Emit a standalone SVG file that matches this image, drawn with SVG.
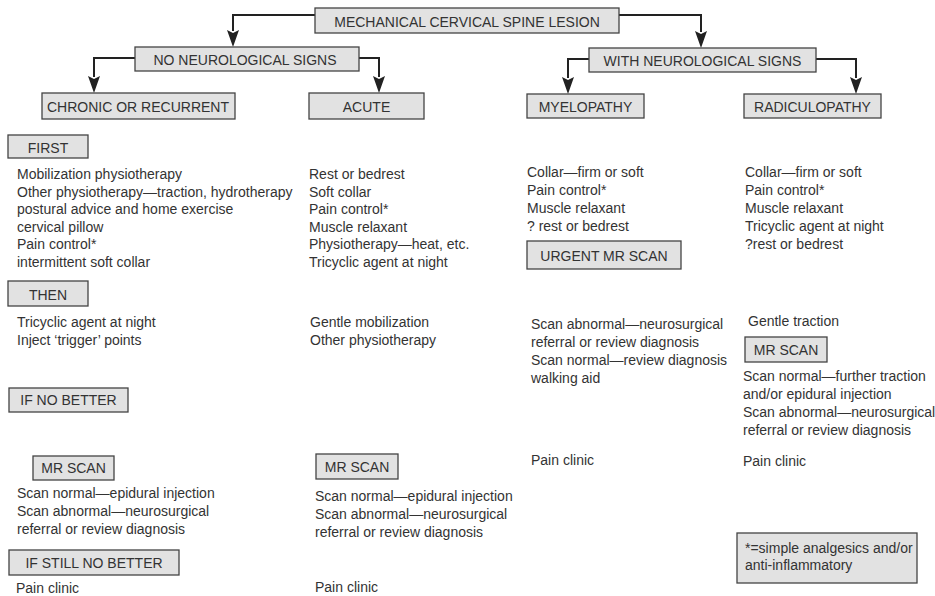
<svg xmlns="http://www.w3.org/2000/svg" width="935" height="596" viewBox="0 0 935 596">
<defs>
<marker id="ah" viewBox="0 0 12 17" refX="6" refY="17" markerWidth="12" markerHeight="17" markerUnits="userSpaceOnUse" orient="auto-start-reverse">
<path d="M0,0 L6,3 L12,0 L6,17 Z" fill="#222"/>
</marker>
</defs>
<style>
text{font-family:"Liberation Sans",Arial,sans-serif;font-size:14px;fill:#333}
.box{fill:#e2e2e2;stroke:#444;stroke-width:1.3}
.lbl{text-anchor:middle}
.con{fill:none;stroke:#222;stroke-width:2}
</style>
<rect width="935" height="596" fill="#fff"/>

<g id="connectors">
<path class="con" d="M315,15 H233 V31"/>
<path d="M227,30 L233,33 L239,30 L233,47 Z" fill="#222"/>
<path class="con" d="M619,15 H701 V32"/>
<path d="M695,31 L701,34 L707,31 L701,48 Z" fill="#222"/>
<path class="con" d="M135,58 H94 V77"/>
<path d="M88,76 L94,79 L100,76 L94,93 Z" fill="#222"/>
<path class="con" d="M359,58 H379 V77"/>
<path d="M373,76 L379,79 L385,76 L379,93 Z" fill="#222"/>
<path class="con" d="M589,59 H568 V78"/>
<path d="M562,77 L568,80 L574,77 L568,94 Z" fill="#222"/>
<path class="con" d="M816,59 H856 V78"/>
<path d="M850,77 L856,80 L862,77 L856,94 Z" fill="#222"/>
</g>

<g id="mechanical">
<rect class="box" x="315" y="8" width="304" height="25"/>
<text class="lbl" x="467" y="27">MECHANICAL CERVICAL SPINE LESION</text>
</g>
<g id="no-neuro">
<rect class="box" x="135" y="47" width="224" height="24"/>
<text class="lbl" x="245" y="65">NO NEUROLOGICAL SIGNS</text>
</g>
<g id="with-neuro">
<rect class="box" x="589" y="48" width="227" height="24"/>
<text class="lbl" x="702.5" y="66">WITH NEUROLOGICAL SIGNS</text>
</g>
<g id="chronic">
<rect class="box" x="42" y="93" width="193" height="26"/>
<text class="lbl" x="138" y="112">CHRONIC OR RECURRENT</text>
</g>
<g id="acute">
<rect class="box" x="309" y="93" width="115" height="26"/>
<text class="lbl" x="366.5" y="112">ACUTE</text>
</g>
<g id="myelopathy">
<rect class="box" x="527" y="94" width="117" height="24"/>
<text class="lbl" x="585.5" y="112">MYELOPATHY</text>
</g>
<g id="radiculopathy">
<rect class="box" x="744" y="94" width="137" height="24"/>
<text class="lbl" x="812.5" y="112">RADICULOPATHY</text>
</g>

<g id="first">
<rect class="box" x="8" y="135" width="80" height="23"/>
<text class="lbl" x="48" y="153">FIRST</text>
</g>
<g id="chronic-first">
<text x="17" y="179">Mobilization physiotherapy</text>
<text x="17" y="196.6">Other physiotherapy—traction, hydrotherapy</text>
<text x="17" y="214.2">postural advice and home exercise</text>
<text x="17" y="231.8">cervical pillow</text>
<text x="17" y="249.4">Pain control*</text>
<text x="17" y="267">intermittent soft collar</text>
</g>
<g id="acute-first">
<text x="309" y="179">Rest or bedrest</text>
<text x="309" y="196.6">Soft collar</text>
<text x="309" y="214.2">Pain control*</text>
<text x="309" y="231.8">Muscle relaxant</text>
<text x="309" y="249.4">Physiotherapy—heat, etc.</text>
<text x="309" y="267">Tricyclic agent at night</text>
</g>
<g id="myelo-first">
<text x="527" y="177">Collar—firm or soft</text>
<text x="527" y="195">Pain control*</text>
<text x="527" y="213">Muscle relaxant</text>
<text x="527" y="231">? rest or bedrest</text>
</g>
<g id="radic-first">
<text x="745" y="177">Collar—firm or soft</text>
<text x="745" y="195">Pain control*</text>
<text x="745" y="213">Muscle relaxant</text>
<text x="745" y="231">Tricyclic agent at night</text>
<text x="745" y="249">?rest or bedrest</text>
</g>
<g id="urgent-mr">
<rect class="box" x="527" y="241" width="154" height="28"/>
<text class="lbl" x="604" y="261">URGENT MR SCAN</text>
</g>

<g id="then">
<rect class="box" x="8" y="281" width="80" height="25"/>
<text class="lbl" x="48" y="300">THEN</text>
</g>
<g id="chronic-then">
<text x="17" y="327">Tricyclic agent at night</text>
<text x="17" y="345">Inject ‘trigger’ points</text>
</g>
<g id="acute-then">
<text x="310" y="327">Gentle mobilization</text>
<text x="310" y="345">Other physiotherapy</text>
</g>
<g id="myelo-scan">
<text x="531" y="329">Scan abnormal—neurosurgical</text>
<text x="531" y="347">referral or review diagnosis</text>
<text x="531" y="365">Scan normal—review diagnosis</text>
<text x="531" y="383">walking aid</text>
</g>
<g id="radic-then">
<text x="748" y="326">Gentle traction</text>
</g>
<g id="radic-mr">
<rect class="box" x="745" y="337" width="82" height="25"/>
<text class="lbl" x="786" y="355">MR SCAN</text>
</g>
<g id="radic-scan">
<text x="743" y="381">Scan normal—further traction</text>
<text x="743" y="399">and/or epidural injection</text>
<text x="743" y="417">Scan abnormal—neurosurgical</text>
<text x="743" y="435">referral or review diagnosis</text>
</g>
<g id="myelo-pain">
<text x="531" y="465">Pain clinic</text>
</g>
<g id="radic-pain">
<text x="743" y="466">Pain clinic</text>
</g>

<g id="if-no-better">
<rect class="box" x="9" y="388" width="119" height="24"/>
<text class="lbl" x="68.5" y="405">IF NO BETTER</text>
</g>
<g id="chronic-mr">
<rect class="box" x="33" y="456" width="81" height="24"/>
<text class="lbl" x="73.5" y="473">MR SCAN</text>
</g>
<g id="chronic-scan">
<text x="17" y="498">Scan normal—epidural injection</text>
<text x="17" y="516">Scan abnormal—neurosurgical</text>
<text x="17" y="534">referral or review diagnosis</text>
</g>
<g id="acute-mr">
<rect class="box" x="316" y="454" width="82" height="25"/>
<text class="lbl" x="357" y="472">MR SCAN</text>
</g>
<g id="acute-scan">
<text x="315" y="501">Scan normal—epidural injection</text>
<text x="315" y="519">Scan abnormal—neurosurgical</text>
<text x="315" y="537">referral or review diagnosis</text>
</g>
<g id="if-still-no-better">
<rect class="box" x="9" y="550" width="170" height="25"/>
<text class="lbl" x="94" y="568">IF STILL NO BETTER</text>
</g>
<g id="chronic-pain">
<text x="16" y="593">Pain clinic</text>
</g>
<g id="acute-pain">
<text x="315" y="592">Pain clinic</text>
</g>
<g id="footnote">
<rect class="box" x="737" y="533" width="180" height="50"/>
<text x="745" y="553">*=simple analgesics and/or</text>
<text x="745" y="570">anti-inflammatory</text>
</g>
</svg>
